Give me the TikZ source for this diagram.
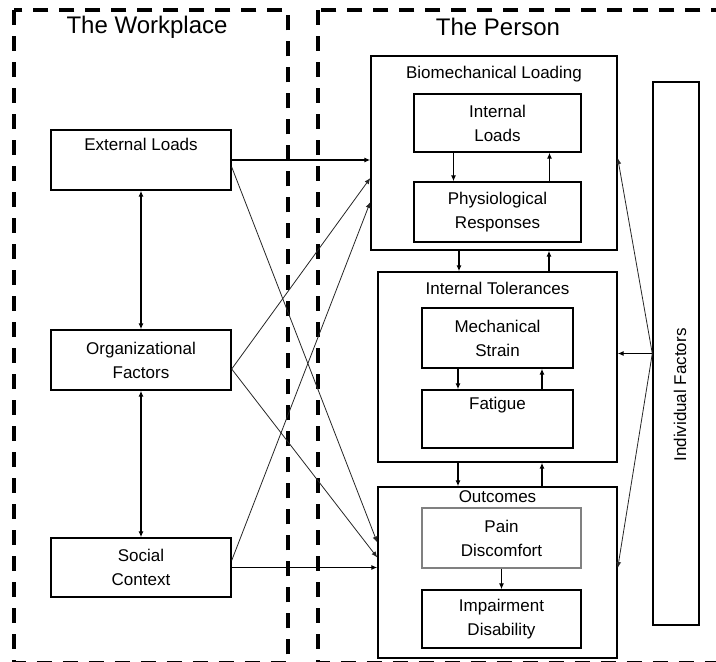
\documentclass[tikz,border=0pt]{standalone}
\usepackage{fontspec}
\setmainfont{Liberation Sans}
\usetikzlibrary{arrows.meta, positioning}

\begin{document}
\begin{tikzpicture}[x=1pt, y=-1pt,
        frame/.style={line width=3.5pt, dash pattern=on 15pt off 11pt},
        box/.style={draw, line width=1.4pt, inner sep=0pt, align=center, font=\fontsize{17}{24}\selectfont},
        group/.style={draw, line width=1.4pt, inner sep=0pt},
        head/.style={font=\fontsize{17}{20}\selectfont},
        title/.style={font=\fontsize{24}{28}\selectfont},
        link/.style={-{Latex[length=6pt,width=5pt]}, line width=1.1pt},
        cross/.style={-{Latex[length=6pt,width=5pt]}, line width=0.8pt, black!85},
        both/.style={{Latex[length=6pt,width=5pt]}-{Latex[length=6pt,width=5pt]}, line width=1.1pt}]
        \useasboundingbox (0,0) rectangle (716,662);
        \draw[frame] (14,10) rectangle (288,663.2);
        \draw[frame] (318,10) rectangle (740,663.2);
        \node[title] (work) at (147,27) {The Workplace};
        \node[title] (pers) at (498,27) {The Person};

        \node[box, minimum width=180pt, minimum height=60pt] (ext) at (141,160) {External Loads\\ \strut};
        \node[box, minimum width=180pt, minimum height=60pt] (org) at (141,360) {Organizational\\Factors};
        \node[box, minimum width=180pt, minimum height=59pt] (soc) at (141,567.5) {Social\\Context};

        \node[group, minimum width=246pt, minimum height=194pt] (bio) at (494,153) {};
        \node[head] at ([yshift=-19pt]bio.north) {Biomechanical Loading};
        \node[box, minimum width=167pt, minimum height=58pt] (il) at (497.5,123) {Internal\\Loads};
        \node[box, minimum width=167pt, minimum height=60pt] (pr) at (497.5,212) {Physiological\\Responses};

        \node[group, minimum width=239pt, minimum height=190pt] (it) at (497.5,367) {};
        \node[head] at ([yshift=-17pt]it.north) {Internal Tolerances};
        \node[box, minimum width=151pt, minimum height=60pt] (ms) at (497.5,338) {Mechanical\\Strain};
        \node[box, minimum width=151pt, minimum height=58pt] (fat) at (497.5,419) {Fatigue\\ \strut};

        \node[group, minimum width=239pt, minimum height=171pt] (out) at (497.5,572.5) {};
        \node[head] at ([yshift=-10pt]out.north) {Outcomes};
        \node[box, draw=gray, minimum width=159pt, minimum height=60pt] (pain) at (501.5,538) {Pain\\Discomfort};
        \node[box, minimum width=159pt, minimum height=58pt] (imp) at (501.5,619) {Impairment\\Disability};

        \node[group, minimum width=46pt, minimum height=543pt] (ind) at (676,353.5) {};
        \node[head, rotate=90] at ([xshift=4pt, yshift=-41.5pt]ind.center) {Individual Factors};

        \draw[both] (ext) -- (org);
        \draw[both] (org) -- (soc);
        \draw[link] (ext.east) -- (ext.east -| bio.west);
        \draw[cross] ([yshift=-7pt]ext.east) -- ([yshift=30pt]out.west);
        \draw[cross] ([yshift=-9pt]org.east) -- ([yshift=-25pt]bio.west);
        \draw[cross] ([yshift=-9pt]org.east) -- ([yshift=15pt]out.west);
        \draw[cross] ([yshift=7pt]soc.east) -- ([yshift=-49pt]bio.west);
        \draw[link] (soc.east) -- (soc.east -| out.west);

        \draw[link] ([xshift=-44pt]il.south) -- ([xshift=-44pt]pr.north);
        \draw[link] ([xshift=52pt]pr.north) -- ([xshift=52pt]il.south);
        \draw[link] ([xshift=-35pt]bio.south) -- ([xshift=-35pt]bio.south |- it.north);
        \draw[link] ([xshift=55pt]bio.south |- it.north) -- ([xshift=55pt]bio.south);
        \draw[link] ([xshift=-39.5pt]ms.south) -- ([xshift=-39.5pt]fat.north);
        \draw[link] ([xshift=44.5pt]fat.north) -- ([xshift=44.5pt]ms.south);
        \draw[link] ([xshift=-39.5pt]it.south) -- ([xshift=-39.5pt]out.north);
        \draw[link] ([xshift=44.5pt]out.north) -- ([xshift=44.5pt]it.south);
        \draw[link] (pain) -- (imp);

        \draw[link] (ind.west) -- (ind.west -| it.east);
        \draw[cross] (ind.west) -- ([yshift=-5pt]bio.east);
        \draw[cross] (ind.west) -- ([yshift=4.5pt]out.east);
    \end{tikzpicture}
\end{document}
